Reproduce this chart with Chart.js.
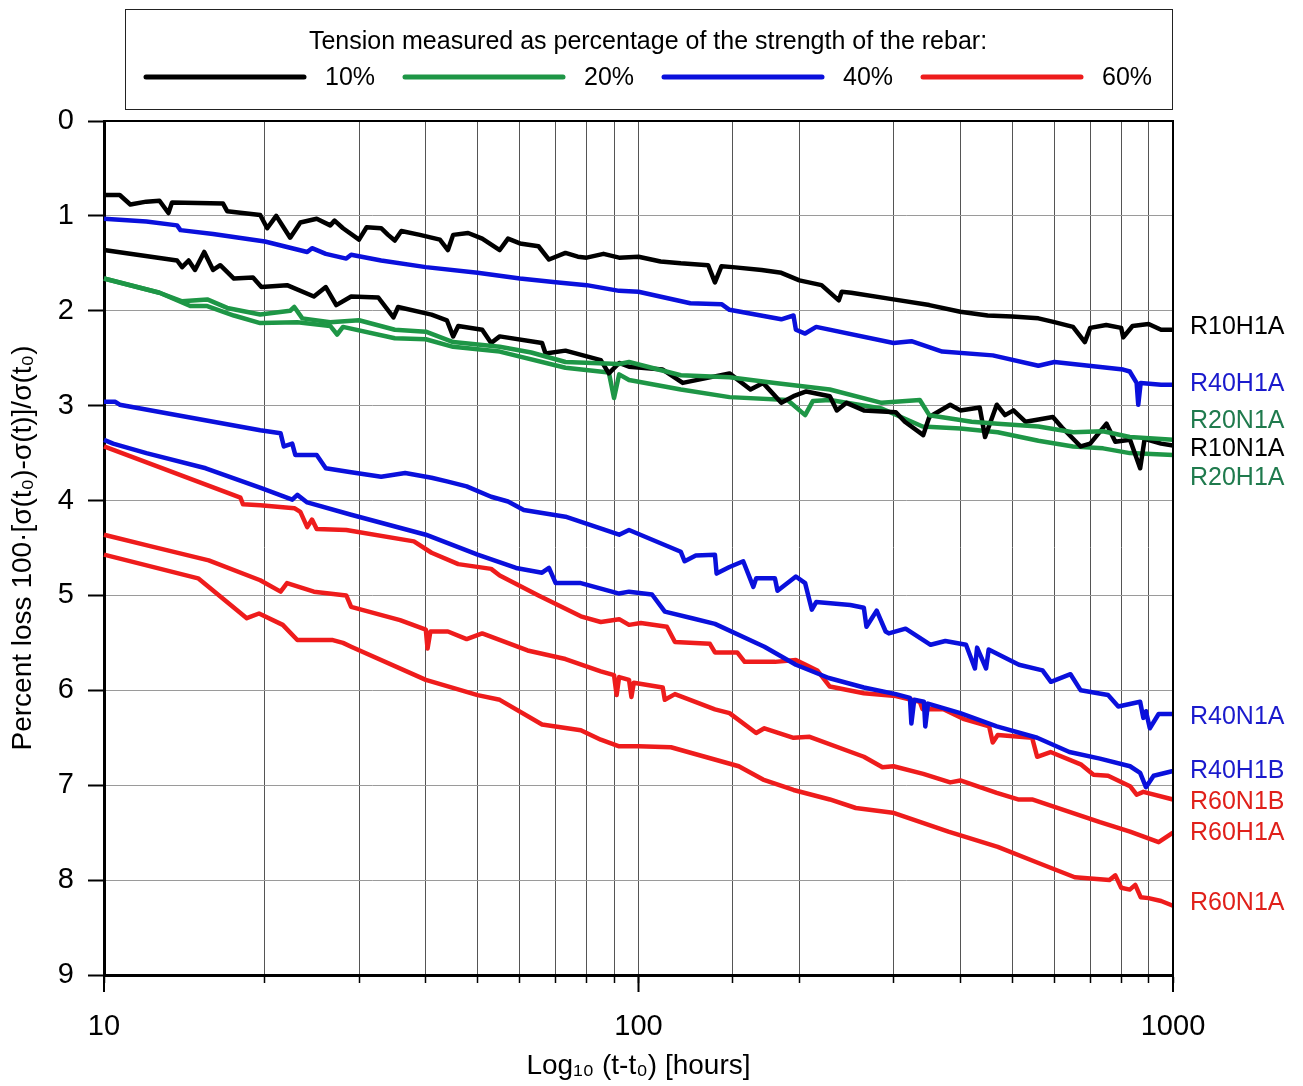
<!DOCTYPE html>
<html>
<head>
<meta charset="utf-8">
<script src="https://cdn.jsdelivr.net/npm/chart.js@4/dist/chart.umd.min.js"></script>
<style>
  body { margin: 0; background: #fff; }
  #wrap { width: 1303px; height: 1086px; }
</style>
</head>
<body>
<div id="wrap"><canvas id="myChart"></canvas></div>
<script>
// values: [hours, percent loss]
var r10h1a = [[10,0.78],[10.7,0.78],[11.2,0.88],[12,0.85],[12.7,0.84],[13.2,0.97],[13.4,0.86],[16.7,0.87],[17,0.95],[19.6,0.99],
  [20.2,1.13],[21,1.0],[22.3,1.23],[23.3,1.07],[25,1.03],[26.5,1.1],[27,1.05],[28,1.13],[30,1.25],[31,1.12],[33,1.13],[34,1.2],[35,1.26],[36,1.16],
  [39,1.2],[42.5,1.25],[44,1.36],[45,1.2],[48,1.18],[51,1.24],[55,1.36],[57,1.24],[60,1.29],[65,1.32],[68,1.46],[73,1.39],[77,1.43],[80,1.44],[86,1.4],[92,1.44],
  [100,1.43],[110,1.48],[120,1.5],[135,1.52],[139,1.7],[143,1.53],[150,1.54],[170,1.57],[185,1.6],[200,1.68],
  [220,1.73],[237,1.89],[240,1.8],[250,1.81],[300,1.88],[350,1.94],[400,2.01],[450,2.05],[500,2.06],[560,2.08],
  [600,2.12],[650,2.17],[684,2.33],[700,2.18],[750,2.15],[800,2.18],[807,2.28],[840,2.16],[900,2.14],[950,2.2],[1000,2.2]];
var r40h1a = [[10,1.03],[12,1.06],[13.7,1.1],[13.9,1.15],[16,1.19],[20,1.27],[24,1.38],[24.5,1.34],[26,1.4],[28.4,1.45],
  [29,1.41],[33,1.47],[40,1.54],[50,1.6],[60,1.66],[70,1.7],[80,1.73],[92,1.79],[100,1.8],[125,1.92],[143,1.93],
  [148,1.99],[185,2.09],[195,2.05],[197,2.2],[205,2.24],[215,2.17],[300,2.34],[324,2.32],[370,2.43],[460,2.47],
  [560,2.58],[600,2.54],[807,2.62],[830,2.64],[855,2.76],[861,2.99],[870,2.76],[950,2.78],[1000,2.78]];
var r20n1a = [[10,1.66],[12.7,1.81],[14,1.9],[15.6,1.88],[17,1.97],[19.6,2.04],[22.3,2.0],[22.7,1.96],[23.5,2.08],[26.5,2.12],[30,2.1],[35,2.2],[40,2.22],[45,2.33],
  [55,2.38],[63,2.44],[73,2.54],[92,2.56],[96,2.54],[120,2.68],[148,2.7],[180,2.76],[228,2.83],[285,2.97],[336,2.94],
  [350,3.1],[420,3.17],[470,3.19],[560,3.22],[650,3.28],[740,3.27],[830,3.33],[1000,3.36]];
var r10n1a = [[10,1.36],[13.7,1.47],[14,1.54],[14.4,1.47],[14.8,1.57],[15.4,1.38],[16,1.57],[16.5,1.52],[17.5,1.66],[19,1.65],
  [19.7,1.75],[22,1.73],[24.7,1.85],[26,1.75],[27.2,1.94],[29,1.85],[32.6,1.86],[34.8,2.07],[35.5,1.96],[41,2.04],
  [43.8,2.1],[45,2.27],[46,2.16],[51,2.2],[53,2.34],[55,2.27],[66,2.34],[67,2.45],[73,2.42],[85,2.52],
  [88,2.66],[92,2.55],[96,2.59],[111,2.62],[121,2.76],[148,2.66],[162,2.83],[171,2.76],[185,2.97],[195,2.9],
  [206,2.85],[228,2.9],[235,3.05],[245,2.97],[264,3.05],[303,3.07],[315,3.17],[341,3.31],[350,3.12],[383,2.99],
  [400,3.05],[435,3.02],[445,3.33],[468,2.99],[485,3.1],[503,3.05],[530,3.17],[596,3.12],[620,3.23],[672,3.43],
  [700,3.4],[751,3.19],[780,3.38],[831,3.36],[868,3.66],[885,3.35],[950,3.4],[1000,3.42]];
var r20h1a = [[10,1.66],[12.7,1.81],[14.5,1.95],[15.6,1.95],[17.5,2.05],[19.6,2.13],[23,2.12],[26.5,2.16],[27.3,2.25],[28,2.17],[35,2.29],[40,2.3],[45,2.38],[55,2.43],
  [73,2.6],[88,2.65],[90,2.92],[92,2.67],[96,2.73],[120,2.83],[148,2.91],[190,2.94],[205,3.1],[212,2.95],
  [228,2.94],[285,3.03],[340,3.22],[400,3.24],[470,3.28],[560,3.37],[650,3.43],[740,3.45],[830,3.5],[1000,3.52]];
var r40n1a = [[10,2.96],[10.5,2.96],[10.7,2.99],[19.6,3.26],[21.4,3.29],[21.7,3.43],[22.5,3.4],[22.8,3.52],[25,3.52],[26,3.66],
  [28.8,3.7],[33,3.75],[36.6,3.71],[41,3.76],[44,3.8],[47.7,3.85],[53,3.96],[57,4.01],[61,4.1],[73,4.17],
  [92,4.36],[96,4.31],[120,4.54],[122,4.64],[128,4.58],[139,4.57],[140,4.77],[148,4.7],[157,4.64],[164,4.91],
  [166,4.82],[180,4.82],[182,4.95],[197,4.8],[205,4.87],[211,5.15],[215,5.07],[249,5.1],[264,5.13],[267,5.33],
  [279,5.16],[290,5.38],[294,5.4],[316,5.35],[352,5.52],[375,5.48],[410,5.52],[426,5.77],[430,5.55],[447,5.77],
  [452,5.57],[515,5.73],[570,5.79],[591,5.91],[643,5.83],[672,6.0],[756,6.05],[790,6.17],[868,6.12],[880,6.29],
  [890,6.22],[905,6.4],[940,6.25],[1000,6.25]];
var r40h1b = [[10,3.36],[10.4,3.4],[12,3.5],[15.5,3.66],[19.7,3.87],[22.5,3.99],[23,3.94],[24,4.02],[29,4.15],[40,4.36],
  [50,4.57],[59,4.71],[66,4.76],[68,4.71],[70,4.87],[78,4.87],[92,4.98],[96,4.96],[106,4.99],[112,5.17],
  [126,5.24],[139,5.3],[172,5.54],[197,5.73],[227,5.87],[264,5.97],[303,6.04],[322,6.08],[324,6.35],[328,6.1],
  [342,6.12],[344,6.38],[348,6.14],[400,6.24],[468,6.38],[557,6.5],[640,6.65],[730,6.72],[831,6.8],[868,6.87],
  [890,7.02],[920,6.9],[1000,6.85]];
var r60n1b = [[10,3.43],[18,3.97],[18.2,4.04],[19.6,4.05],[22.7,4.08],[23.3,4.12],[24,4.28],[24.5,4.2],[25,4.3],[28.4,4.31],
  [38,4.43],[41,4.55],[46,4.67],[53,4.72],[55,4.79],[65,5.0],[78,5.22],[85,5.28],[92,5.25],[96,5.31],
  [101,5.29],[113,5.33],[117,5.49],[136,5.51],[139,5.6],[153,5.6],[158,5.7],[180,5.7],[197,5.68],[216,5.79],
  [228,5.96],[264,6.03],[303,6.06],[336,6.12],[340,6.2],[372,6.2],[405,6.3],[453,6.38],[460,6.55],[470,6.47],
  [545,6.5],[557,6.7],[590,6.65],[672,6.78],[710,6.89],[756,6.9],[831,7.01],[855,7.1],[880,7.07],[1000,7.15]];
var r60h1a = [[10,4.36],[12.2,4.48],[15.7,4.63],[19.6,4.84],[21.4,4.96],[22,4.87],[24.7,4.96],[28.4,5.0],[29,5.12],[35.8,5.26],
  [40,5.36],[40.3,5.56],[40.8,5.38],[44,5.38],[47.7,5.46],[51,5.4],[62,5.58],[73,5.67],[85,5.8],[90,5.84],
  [91,6.05],[92,5.86],[96,5.89],[97,6.07],[98,5.92],[111,5.97],[112,6.1],[117,6.04],[139,6.2],[148,6.24],
  [166,6.45],[172,6.4],[195,6.5],[209,6.49],[264,6.7],[286,6.81],[300,6.8],[341,6.88],[383,6.97],[400,6.95],
  [468,7.08],[513,7.15],[545,7.15],[640,7.28],[730,7.39],[831,7.49],[940,7.6],[1000,7.5]];
var r60n1a = [[10,4.57],[15,4.82],[18.5,5.24],[19.5,5.19],[21.6,5.31],[23,5.47],[26.8,5.47],[28,5.5],[29,5.54],[40,5.89],
  [50,6.05],[55,6.1],[66,6.36],[78,6.42],[85,6.52],[92,6.59],[100,6.59],[115,6.6],[154,6.8],[171,6.94],
  [195,7.05],[228,7.15],[255,7.24],[299,7.29],[380,7.49],[470,7.65],[560,7.82],[655,7.97],[760,8.0],[780,7.95],
  [800,8.08],[830,8.1],[850,8.05],[870,8.18],[900,8.19],[950,8.22],[1000,8.27]];

var seriesNames = ["R10H1A", "R40H1A", "R20N1A", "R10N1A", "R20H1A", "R40N1A", "R40H1B", "R60N1B", "R60H1A", "R60N1A"];
var seriesData = [r10h1a, r40h1a, r20n1a, r10n1a, r20h1a, r40n1a, r40h1b, r60n1b, r60h1a, r60n1a];
var seriesTension = ["10%", "40%", "20%", "10%", "20%", "40%", "40%", "60%", "60%", "60%"];
// where the name sits on the right, in percent-loss units
var nameAt = [2.17, 2.77, 3.16, 3.46, 3.76, 6.28, 6.85, 7.18, 7.5, 8.24];

var tensionLabels = ["10%", "20%", "40%", "60%"];
var lineColors = {"10%": "#000000", "20%": "#1e9646", "40%": "#0a10dc", "60%": "#ee1c1c"};
var textColors = {"10%": "#000000", "20%": "#1f7a4d", "40%": "#1a1acc", "60%": "#e0201a"};
var legendTitle = "Tension measured as percentage of the strength of the rebar:";
var yTicks = [0, 1, 2, 3, 4, 5, 6, 7, 8, 9];
var xLabelled = [10, 100, 1000];

Chart.defaults.font.family = "'Liberation Sans', Arial, sans-serif";
Chart.defaults.color = "#000";

var datasets = seriesData.map(function (d, i) {
  return {
    label: seriesNames[i],
    data: d.map(function (p) { return {x: p[0], y: p[1]}; }),
    borderColor: lineColors[seriesTension[i]],
    backgroundColor: lineColors[seriesTension[i]],
    borderWidth: 4.5,
    pointRadius: 0,
    tension: 0,
    borderJoinStyle: 'round',
    clip: 5
  };
});

var extras = {
  id: 'extras',
  afterDraw: function (chart) {
    var ctx = chart.ctx;
    var a = chart.chartArea;
    var xs = chart.scales.x, ys = chart.scales.y;
    ctx.save();
    // frame top and right
    ctx.strokeStyle = '#000';
    ctx.lineWidth = 2;
    ctx.beginPath();
    ctx.moveTo(a.left, a.top); ctx.lineTo(a.right, a.top); ctx.lineTo(a.right, a.bottom);
    ctx.stroke();
    // longer ticks at the decades
    xLabelled.forEach(function (v) {
      var px = xs.getPixelForValue(v);
      ctx.beginPath(); ctx.moveTo(px, a.bottom); ctx.lineTo(px, a.bottom + 17); ctx.stroke();
    });
    // names at the right end
    ctx.font = "25px 'Liberation Sans', Arial, sans-serif";
    ctx.textAlign = 'left';
    ctx.textBaseline = 'middle';
    seriesNames.forEach(function (n, i) {
      ctx.fillStyle = textColors[seriesTension[i]];
      ctx.fillText(n, a.right + 17, ys.getPixelForValue(nameAt[i]));
    });
    // legend box
    ctx.strokeStyle = '#222';
    ctx.lineWidth = 1;
    ctx.strokeRect(125.5, 9.5, 1047, 100);
    ctx.fillStyle = '#000';
    ctx.textAlign = 'center';
    ctx.font = "25px 'Liberation Sans', Arial, sans-serif";
    ctx.fillText(legendTitle, 648, 42);
    ctx.textAlign = 'left';
    ctx.font = "25px 'Liberation Sans', Arial, sans-serif";
    ctx.lineCap = 'round';
    tensionLabels.forEach(function (t, i) {
      var x0 = 146 + i * 259;
      ctx.strokeStyle = lineColors[t];
      ctx.lineWidth = 5;
      ctx.beginPath(); ctx.moveTo(x0, 77); ctx.lineTo(x0 + 158, 77); ctx.stroke();
      ctx.fillStyle = '#000';
      ctx.fillText(t, x0 + 179, 78);
    });
    ctx.restore();
  }
};

const ctx = document.getElementById('myChart').getContext('2d');
let myChart = new Chart(ctx, {
  type: 'line',
  data: { datasets: datasets },
  options: {
    responsive: true,
    maintainAspectRatio: false,
    animation: false,
    layout: { padding: { top: 121, right: 130, left: 0, bottom: 0 } },
    scales: {
      x: {
        type: 'logarithmic',
        min: 10,
        max: 1000,
        afterFit: function (s) { s.height = 111; },
        ticks: {
          autoSkip: false,
          maxRotation: 0,
          padding: 27,
          font: { size: 29 },
          callback: function (v) { return xLabelled.indexOf(v) >= 0 ? String(v) : ''; }
        },
        grid: { color: '#555', lineWidth: 1, tickColor: '#000', tickLength: 8, tickWidth: 1.5 },
        border: { color: '#000', width: 3 },
        title: {
          display: true,
          text: 'Log\u2081\u2080 (t-t\u2080) [hours]',
          font: { size: 28 },
          padding: { top: 0, bottom: 3 }
        }
      },
      y: {
        type: 'linear',
        reverse: true,
        min: 0,
        max: 9,
        afterFit: function (s) { s.width = 104; },
        afterBuildTicks: function (s) { s.ticks = yTicks.map(function (v) { return {value: v}; }); },
        ticks: { padding: 14, font: { size: 29 } },
        grid: { color: '#9a9a9a', lineWidth: 1, tickColor: '#000', tickLength: 16, tickWidth: 2 },
        border: { color: '#000', width: 3 },
        title: {
          display: true,
          text: 'Percent loss 100\u00b7[\u03c3(t\u2080)-\u03c3(t)]/\u03c3(t\u2080)',
          font: { size: 28 },
          padding: { top: 6, bottom: 0 }
        }
      }
    },
    plugins: {
      legend: { display: false },
      tooltip: { enabled: false }
    }
  },
  plugins: [extras]
});
</script>
</body>
</html>
